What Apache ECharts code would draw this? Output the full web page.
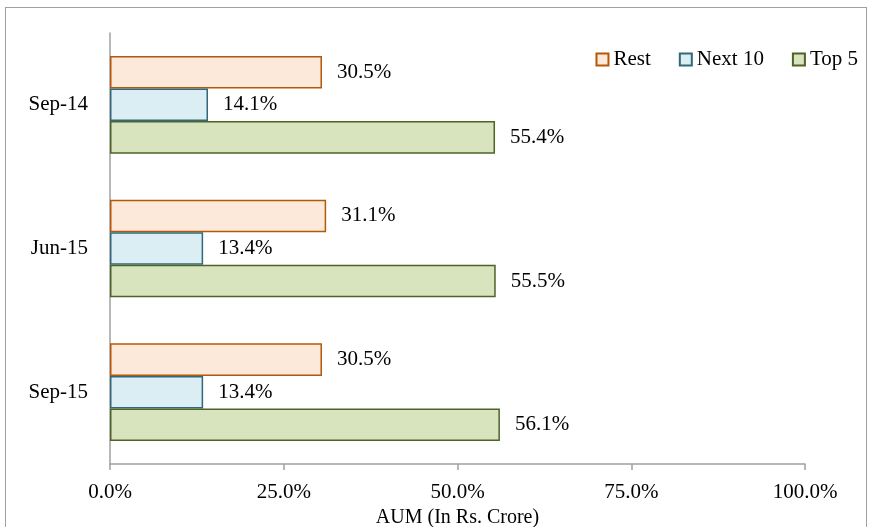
<!DOCTYPE html>
<html>
<head>
<meta charset="utf-8">
<script src="https://cdn.jsdelivr.net/npm/echarts@6/dist/echarts.min.js"></script>
<style>
  html, body { margin: 0; padding: 0; background: #fff; }
  #chart { width: 871px; height: 527px; }
  #frame { position: absolute; left: 5px; top: 7px; width: 862px; height: 530px; border: 1px solid #a0a0a0; box-sizing: border-box; pointer-events: none; }
</style>
</head>
<body>
<div id="chart"></div>
<div id="frame"></div>
<script>
var categories = ['Sep-14', 'Jun-15', 'Sep-15'];
var restData = [30.5, 31.1, 30.5];
var next10Data = [14.1, 13.4, 13.4];
var top5Data = [55.4, 55.5, 56.1];
var legendNames = ['Rest', 'Next 10', 'Top 5'];

var font = '"Liberation Serif", "Times New Roman", serif';

function barSeries(name, data, fill, border) {
    return {
        name: name,
        type: 'bar',
        data: data,
        barGap: '0%',
        barCategoryGap: '32%',
        itemStyle: {
            color: fill,
            borderColor: border,
            borderWidth: 1.5
        },
        label: {
            show: true,
            position: 'right',
            distance: 15,
            fontFamily: font,
            fontSize: 21,
            color: '#000',
            formatter: function (p) { return p.value.toFixed(1) + '%'; }
        }
    };
}

var chart = echarts.init(document.getElementById('chart'));
var option = {
    animation: false,
    textStyle: { fontFamily: font },
    legend: {
        data: legendNames,
        right: 8,
        top: 44,
        itemWidth: 12,
        itemHeight: 12,
        itemGap: 28,
        icon: 'rect',
        textStyle: { fontFamily: font, fontSize: 21, color: '#000' }
    },
    grid: {
        left: 110,
        right: 66,
        top: 33,
        bottom: 63,
        outerBoundsMode: 'none',
        containLabel: false
    },
    xAxis: {
        type: 'value',
        min: 0,
        max: 100,
        interval: 25,
        name: 'AUM (In Rs. Crore)',
        nameLocation: 'middle',
        nameGap: 41,
        nameTextStyle: { fontFamily: font, fontSize: 20, color: '#000' },
        axisLine: { show: true, lineStyle: { color: '#a0a0a0', width: 1.5 } },
        axisTick: { show: true, length: 6, lineStyle: { color: '#a0a0a0', width: 1.5 } },
        splitLine: { show: false },
        axisLabel: {
            margin: 18,
            fontFamily: font,
            fontSize: 21,
            color: '#000',
            formatter: function (v) { return v.toFixed(1) + '%'; }
        }
    },
    yAxis: {
        type: 'category',
        data: categories,
        inverse: true,
        axisLine: { show: true, lineStyle: { color: '#a0a0a0', width: 1.5 } },
        axisTick: { show: false },
        axisLabel: { margin: 22, fontFamily: font, fontSize: 21, color: '#000' }
    },
    series: [
        barSeries('Rest', restData, '#fde9d9', '#b65708'),
        barSeries('Next 10', next10Data, '#daeef3', '#31687a'),
        barSeries('Top 5', top5Data, '#d7e4bd', '#4f6228')
    ]
};
chart.setOption(option);
</script>
</body>
</html>
